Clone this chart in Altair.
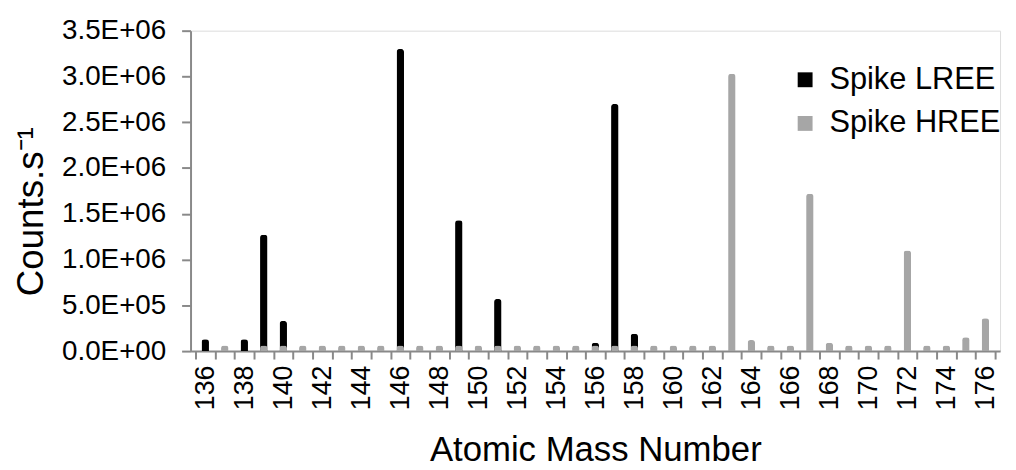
import altair as alt
import pandas as pd

masses = list(range(136, 177))
series_names = ["Spike LREE", "Spike HREE"]

lree = [1.3e5, 0, 1.3e5, 1.27e6, 3.3e5, 0, 0, 0, 0, 0,
        3.3e6, 0, 0, 1.43e6, 0, 5.7e5, 0, 0, 0, 0,
        9e4, 2.7e6, 1.9e5, 0, 0, 0, 0, 0, 0, 0,
        0, 0, 0, 0, 0, 0, 0, 0, 0, 0, 0]
hree = [0, 6e4, 0, 6e4, 6e4, 6e4, 6e4, 6e4, 6e4, 6e4,
        6e4, 6e4, 6e4, 6e4, 6e4, 6e4, 6e4, 6e4, 6e4, 6e4,
        6e4, 6e4, 6e4, 6e4, 6e4, 6e4, 6e4, 3.03e6, 1.2e5, 6e4,
        6e4, 1.72e6, 9e4, 6e4, 6e4, 6e4, 1.1e6, 6e4, 6e4, 1.5e5, 3.6e5]

y_ticks = [i * 5e5 for i in range(8)]
x_tick_marks = [m - 0.5 for m in masses] + [masses[-1] + 0.5]
x_label_values = list(range(136, 177, 2))

df_l = pd.DataFrame({"mass": masses, "value": lree, "series": series_names[0]})
df_h = pd.DataFrame({"mass": masses, "value": hree, "series": series_names[1]})
df_l = df_l[df_l["value"] > 0]
df_h = df_h[df_h["value"] > 0]

FONT = "Liberation Sans"
AXIS_COLOR = "#898989"

color = alt.Color(
    "series:N",
    scale=alt.Scale(domain=series_names, range=["#000000", "#a6a6a6"]),
    legend=alt.Legend(
        title=None, orient="none", legendX=604, legendY=34,
        symbolType="square", symbolSize=225, symbolStrokeWidth=0,
        labelFontSize=31, labelFont=FONT, labelColor="#000000", labelLimit=0,
        rowPadding=12, labelOffset=9, padding=0,
    ),
)

exp_expr = "floor(log(datum.value)/LN10 + 1e-9)"
y_label_expr = (
    "datum.value == 0 ? '0.0E+00' : format(datum.value / pow(10, " + exp_expr + "), '.1f') + 'E+' + ("
    + exp_expr + " < 10 ? '0' : '') + " + exp_expr
)

y_enc = alt.Y(
    "value:Q",
    scale=alt.Scale(domain=[0, 3.5e6], nice=False),
    axis=alt.Axis(
        values=y_ticks, labelExpr=y_label_expr, grid=False,
        labelFont=FONT, labelFontSize=28, labelColor="#000000", labelPadding=16,
        tickSize=9, tickColor=AXIS_COLOR, tickWidth=2,
        domainColor=AXIS_COLOR, domainWidth=2,
        title="Counts.s⁻¹", titleFont=FONT, titleFontSize=37, titleFontWeight="normal",
        titleColor="#000000", titleAngle=-90, titleAlign="center", titleBaseline="middle",
        titleX=-160, titleY=182,
    ),
)

x_scale = alt.Scale(domain=[135.5, 176.5], nice=False, zero=False)

x_ticks_axis = alt.X(
    "mass:Q", scale=x_scale,
    axis=alt.Axis(
        orient="bottom", values=x_tick_marks, labels=False, grid=False,
        tickSize=8, tickColor=AXIS_COLOR, tickWidth=2,
        domainColor=AXIS_COLOR, domainWidth=2, title=None,
    ),
)
x_labels_axis = alt.X(
    "mass:Q", scale=x_scale,
    axis=alt.Axis(
        orient="bottom", values=x_label_values, ticks=False, domain=False, grid=False,
        labelAngle=-90, labelAlign="right", labelBaseline="middle",
        labelFont=FONT, labelFontSize=27, labelColor="#000000", labelPadding=14,
        labelFlush=False, labelOverlap=False,
        title="Atomic Mass Number", titleFont=FONT, titleFontSize=35, titleFontWeight="normal",
        titleColor="#000000", titleBaseline="alphabetic", titleY=110,
    ),
)

bars_l = alt.Chart(df_l).mark_bar(size=7.5, cornerRadiusEnd=3).encode(
    x=x_ticks_axis, y=y_enc, color=color
)
bars_h = alt.Chart(df_h).mark_bar(size=7.5, cornerRadiusEnd=3).encode(
    x=x_labels_axis, y=alt.Y("value:Q"), color=color
)

chart = alt.layer(bars_l, bars_h).resolve_axis(x="independent").properties(
    width=816, height=323,
    autosize=alt.AutoSizeParams(type="none"),
    padding={"left": 184, "top": 21, "right": 8, "bottom": 118},
).configure_view(stroke=None).configure(background="#ffffff")

chart.save("out.html", embed_options={"renderer": "svg", "actions": False})
